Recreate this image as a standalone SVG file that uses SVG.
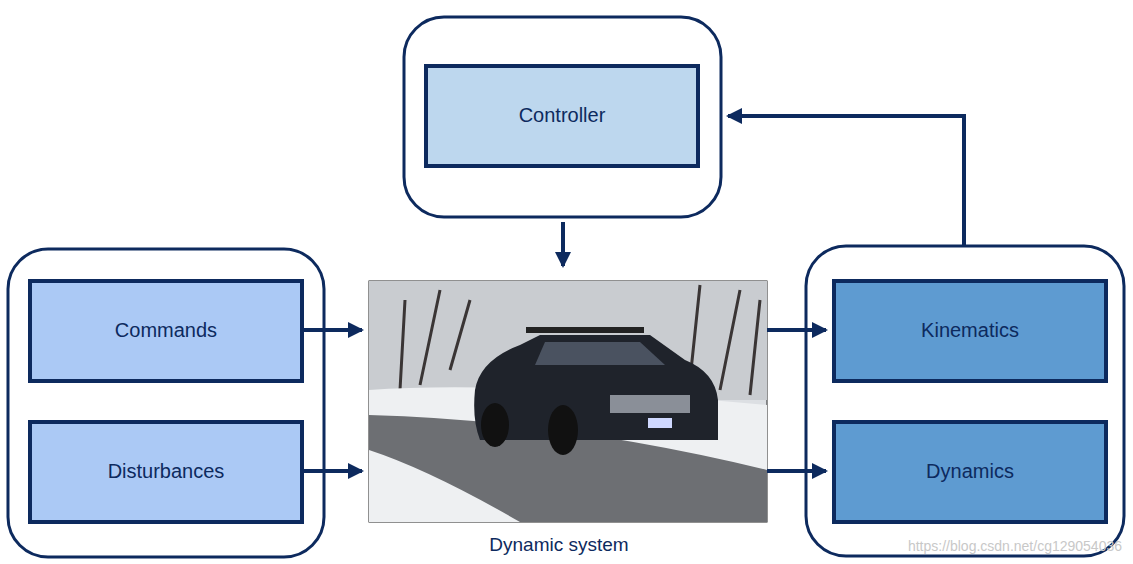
<svg xmlns="http://www.w3.org/2000/svg" width="1133" height="564" viewBox="0 0 1133 564">
<style>
.outer{fill:#fff;stroke:#0d2a5e;stroke-width:3}
.box{stroke:#0d2a5e;stroke-width:4}
.t{font-family:"Liberation Sans",Arial,sans-serif;font-size:20px;fill:#0d2a5e;text-anchor:middle;dominant-baseline:middle}
.c{stroke:#0d2a5e;stroke-width:4;fill:none}
</style>
<defs>
<marker id="a" markerWidth="4" markerHeight="4" refX="3.5" refY="2" orient="auto"><path d="M0,0L4,2L0,4Z" fill="#0d2a5e"/></marker>
</defs>
<rect width="1133" height="564" fill="#fff"/>
<g id="controller-group">
<rect class="outer" x="404" y="17" width="317" height="200" rx="40"/>
<g id="controller"><rect class="box" x="426" y="66" width="272" height="100" fill="#bdd7ee"/><text class="t" x="562" y="117">Controller</text></g>
</g>
<g id="inputs">
<rect class="outer" x="8" y="249" width="316" height="308" rx="40"/>
<g id="commands"><rect class="box" x="30" y="281" width="272" height="100" fill="#abc9f5"/><text class="t" x="166" y="332">Commands</text></g>
<g id="disturbances"><rect class="box" x="30" y="422" width="272" height="100" fill="#abc9f5"/><text class="t" x="166" y="473">Disturbances</text></g>
</g>
<g id="outputs">
<rect class="outer" x="806" y="246" width="318" height="310" rx="40"/>
<g id="kinematics"><rect class="box" x="834" y="281" width="272" height="100" fill="#5e9bd1"/><text class="t" x="970" y="332">Kinematics</text></g>
<g id="dynamics"><rect class="box" x="834" y="422" width="272" height="100" fill="#5e9bd1"/><text class="t" x="970" y="473">Dynamics</text></g>
</g>
<g id="dynamic-system">
<rect x="369" y="281" width="398" height="241" fill="#dcdfe3" stroke="#222" stroke-width="1"/>
<path d="M369,281H767V400H369Z" fill="#c9ccd0"/>
<g stroke="#3a3535" stroke-width="3" fill="none">
<path d="M400,390L405,300M420,385L440,290M690,380L700,285M720,390L740,290M750,395L760,300M450,370L470,300"/>
</g>
<path d="M369,390Q500,380 767,405V522H369Z" fill="#eef0f2"/>
<path d="M369,415Q560,420 767,470V522H520Q430,470 369,450Z" fill="#6d6f73"/>
<path d="M475,390Q480,360 520,345L540,335H650L685,360Q715,372 718,400V440H480Q472,420 475,390Z" fill="#1f232b"/>
<path d="M545,342H640L665,365H535Z" fill="#4a5260"/>
<ellipse cx="495" cy="425" rx="14" ry="22" fill="#111"/>
<ellipse cx="563" cy="430" rx="15" ry="25" fill="#111"/>
<rect x="610" y="395" width="80" height="18" fill="#8a8f98"/>
<rect x="648" y="418" width="24" height="10" fill="#cfd8ff"/>
<rect x="526" y="327" width="118" height="6" fill="#222"/>
</g>
<text class="t" x="559" y="546" style="font-size:19px">Dynamic system</text>
<g id="connectors">
<path class="c" d="M563,222V266" marker-end="url(#a)"/>
<path class="c" d="M302,330H362" marker-end="url(#a)"/>
<path class="c" d="M302,471H362" marker-end="url(#a)"/>
<path class="c" d="M767,330H826" marker-end="url(#a)"/>
<path class="c" d="M767,471H826" marker-end="url(#a)"/>
<path class="c" d="M964,246V116H728" marker-end="url(#a)"/>
</g>
<text x="1122" y="551" style="font-family:'Liberation Sans',Arial,sans-serif;font-size:14px;fill:#c8c8c8;text-anchor:end">https://blog.csdn.net/cg129054036</text>
</svg>
